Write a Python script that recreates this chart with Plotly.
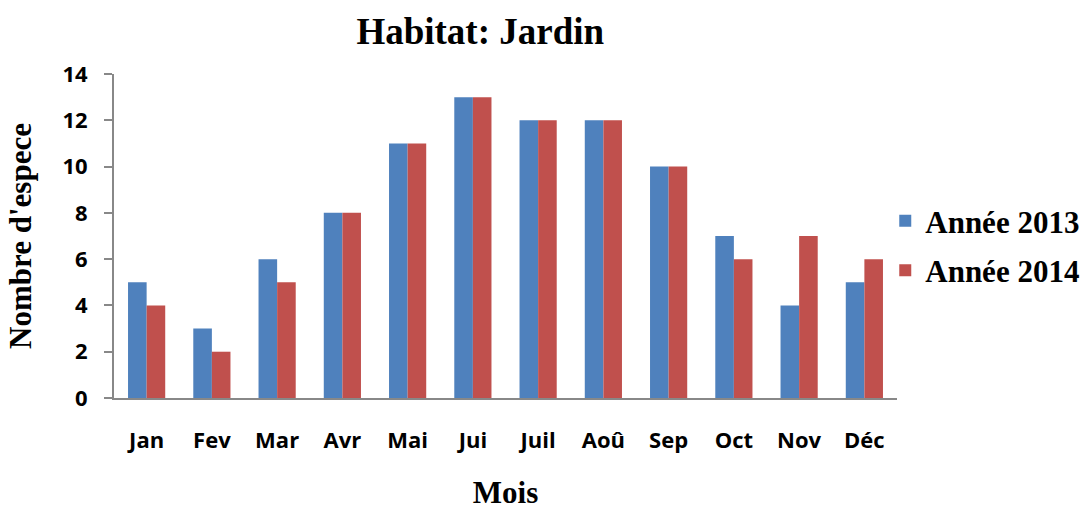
import plotly.graph_objects as go

months = ["Jan", "Fev", "Mar", "Avr", "Mai", "Jui", "Juil", "Aoû", "Sep", "Oct", "Nov", "Déc"]
annee_2013 = [5, 3, 6, 8, 11, 13, 12, 12, 10, 7, 4, 5]
annee_2014 = [4, 2, 5, 8, 11, 13, 12, 12, 10, 6, 7, 6]
y_ticks = [0, 2, 4, 6, 8, 10, 12, 14]

serif = "Liberation Serif"
sans = "Open Sans"

fig = go.Figure()
fig.add_trace(go.Bar(x=months, y=annee_2013, name="<b>Année 2013</b>", legendgroup="a",
                     marker=dict(color="#4F81BD", line=dict(width=0))))
fig.add_trace(go.Bar(x=months, y=annee_2014, name="<b>Année 2014</b>", legendgroup="b",
                     marker=dict(color="#C0504D", line=dict(width=0))))

fig.update_layout(
    width=1089, height=510,
    margin=dict(l=114, r=192, t=74, b=112, autoexpand=False),
    paper_bgcolor="white", plot_bgcolor="white",
    barmode="group", bargap=0.43, bargroupgap=0,
    title=dict(text="<b>Habitat: Jardin</b>", x=0.441, xanchor="center", y=0.94, yanchor="middle",
               font=dict(family=serif, size=37, color="black")),
    legend=dict(x=0.985, xanchor="left", y=0.47, yanchor="middle",
                font=dict(family=serif, size=31, color="black"),
                tracegroupgap=6, itemwidth=30, bgcolor="rgba(0,0,0,0)"),
    showlegend=True,
)
fig.update_xaxes(
    showline=True, linecolor="#888888", linewidth=2,
    ticks="", tickfont=dict(family=sans, size=22, color="black"),
    ticklabelstandoff=22,
    tickvals=months, ticktext=[f"<b>{m}</b>" for m in months],
    title=dict(text="<b>Mois</b>", font=dict(family=serif, size=31, color="black"), standoff=32),
    showgrid=False, automargin=False,
)
fig.update_yaxes(
    range=[0, 14], tickvals=y_ticks, ticktext=[f"<b>{v}</b>" for v in y_ticks],
    showline=True, linecolor="#888888", linewidth=2,
    ticks="outside", ticklen=8, tickcolor="#888888", tickwidth=1.5,
    tickfont=dict(family=sans, size=22, color="black"),
    ticklabelstandoff=12,
    title=dict(text="<b>Nombre d'espece</b>", font=dict(family=serif, size=31, color="black"), standoff=22),
    showgrid=False, zeroline=False, automargin=False,
)

fig.write_html("out.html", config={"displayModeBar": False},
               post_script="document.body.style.margin='0';")
